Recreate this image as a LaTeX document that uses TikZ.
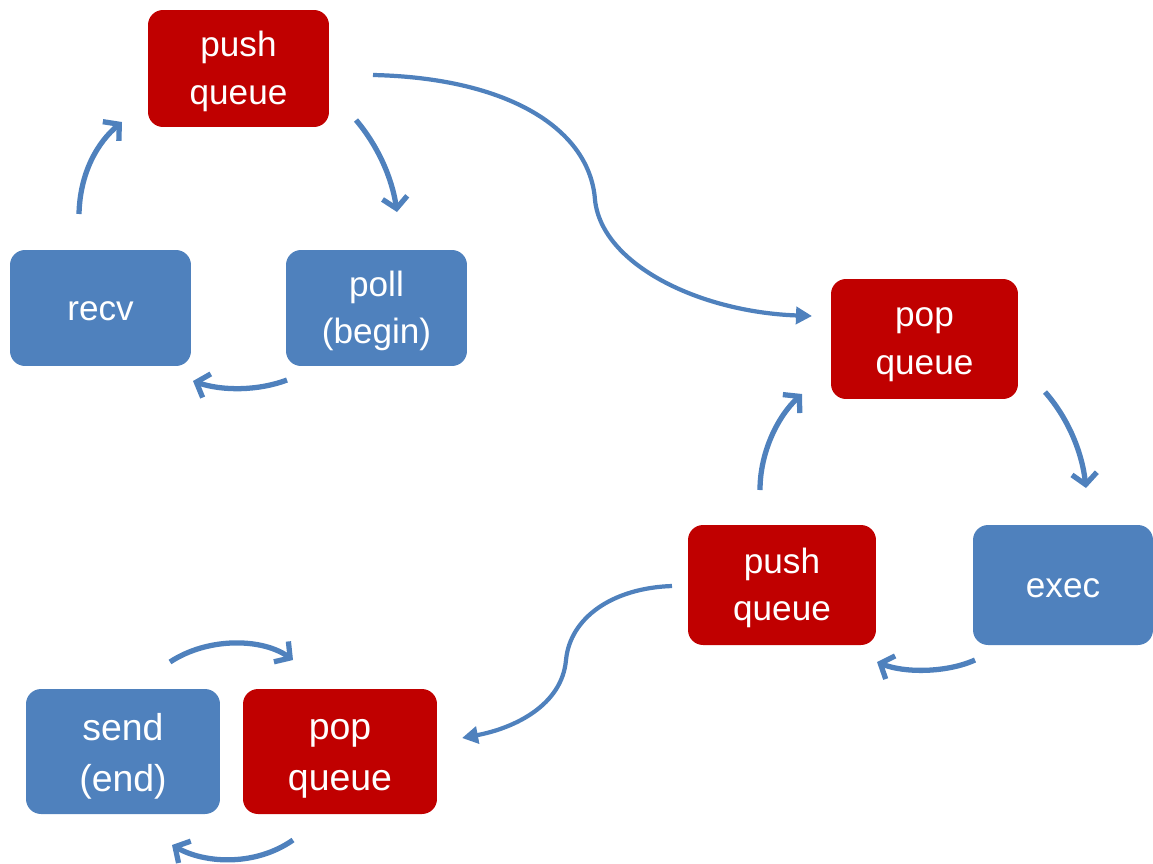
\documentclass[tikz,border=0pt]{standalone}
\usepackage{fontspec}
\setmainfont{Liberation Sans}
\usetikzlibrary{arrows.meta}
\definecolor{qred}{HTML}{C00000}
\definecolor{qblue}{HTML}{4F81BD}
\tikzset{
  box/.style={rounded corners=0.3cm, inner sep=0pt},
  queuebox/.style={box, fill=qred},
  taskbox/.style={box, fill=qblue},
  boxtext/.style={text=white, align=center, inner sep=0pt, yshift=-0.06cm,
    font=\fontsize{20}{27.2}\selectfont},
  bigtext/.style={boxtext, yshift=-0.09cm, font=\fontsize{21.3}{28.9}\selectfont},
  loop/.style={draw=qblue, line width=3pt, -{Straight Barb[length=0.22cm, width=0.5cm]}},
  hop/.style={draw=qblue, line width=2.4pt, -{Triangle[length=0.32cm, width=0.34cm]}}
}
\begin{document}
\begin{tikzpicture}[x=0.02cm, y=-0.02cm]
\useasboundingbox (0,0) rectangle (1153,863);

% boxes with their captions
\node[queuebox, minimum width=3.62cm, minimum height=2.34cm,
  label={[boxtext]center:{push\\queue}}] (pushT) at (238.5,68.5) {};
\node[taskbox, minimum width=3.62cm, minimum height=2.32cm,
  label={[boxtext]center:{recv}}] (recv) at (100.5,308) {};
\node[taskbox, minimum width=3.62cm, minimum height=2.32cm,
  label={[boxtext]center:{poll\\(begin)}}] (poll) at (376.5,308) {};
\node[queuebox, minimum width=3.74cm, minimum height=2.4cm,
  label={[boxtext, yshift=-0.05cm]center:{pop\\queue}}] (popR) at (924.5,339) {};
\node[queuebox, minimum width=3.76cm, minimum height=2.4cm,
  label={[boxtext]center:{push\\queue}}] (pushM) at (782,585) {};
\node[taskbox, minimum width=3.6cm, minimum height=2.4cm,
  label={[boxtext]center:{exec}}] (exec) at (1063,585) {};
\node[taskbox, minimum width=3.88cm, minimum height=2.5cm,
  label={[bigtext, yshift=0.05cm]center:{send\\(end)}}] (send) at (123,751.5) {};
\node[queuebox, minimum width=3.88cm, minimum height=2.5cm,
  label={[bigtext]center:{pop\\queue}}] (popB) at (340,751.5) {};

% connector ends
\coordinate (r1) at (79,214);   \coordinate (r2) at (122,122);
\coordinate (p1) at (356,120);  \coordinate (p2) at (397,212);
\coordinate (b1) at (287,380);  \coordinate (b2) at (193,381);
\coordinate (t1) at (373,75);   \coordinate (tm) at (595,200); \coordinate (t2) at (812,316);
\coordinate (e1) at (1045,392); \coordinate (e2) at (1086,488);
\coordinate (x1) at (975,660);  \coordinate (x2) at (877,662);
\coordinate (u1) at (760,490);  \coordinate (u2) at (802,394);
\coordinate (m1) at (672,586);  \coordinate (mm) at (566,660); \coordinate (m2) at (462,738);
\coordinate (a1) at (170,662);  \coordinate (a2) at (293,660);
\coordinate (c1) at (293,840);  \coordinate (c2) at (172,845);

% first cycle
\draw[loop] (r1) .. controls (80,172) and (98,142) .. (r2);
\draw[loop] (p1) .. controls (378,146) and (392,178) .. (p2);
\draw[loop] (b1) .. controls (258,391) and (222,391) .. (b2);

% hand-over to the second cycle
\draw[hop] (t1) .. controls (510,78) and (590,130) .. (tm)
           .. controls (602,265) and (700,312) .. (t2);

% second cycle
\draw[loop] (e1) .. controls (1068,418) and (1082,452) .. (e2);
\draw[loop] (x1) .. controls (946,673) and (904,673) .. (x2);
\draw[loop] (u1) .. controls (760,452) and (778,416) .. (u2);

% hand-over to the last pair
\draw[hop] (m1) .. controls (612,588) and (570,618) .. (mm)
           .. controls (562,705) and (515,728) .. (m2);

% last pair
\draw[loop] (a1) .. controls (208,637) and (262,638) .. (a2);
\draw[loop] (c1) .. controls (256,866) and (206,864) .. (c2);
\end{tikzpicture}
\end{document}
